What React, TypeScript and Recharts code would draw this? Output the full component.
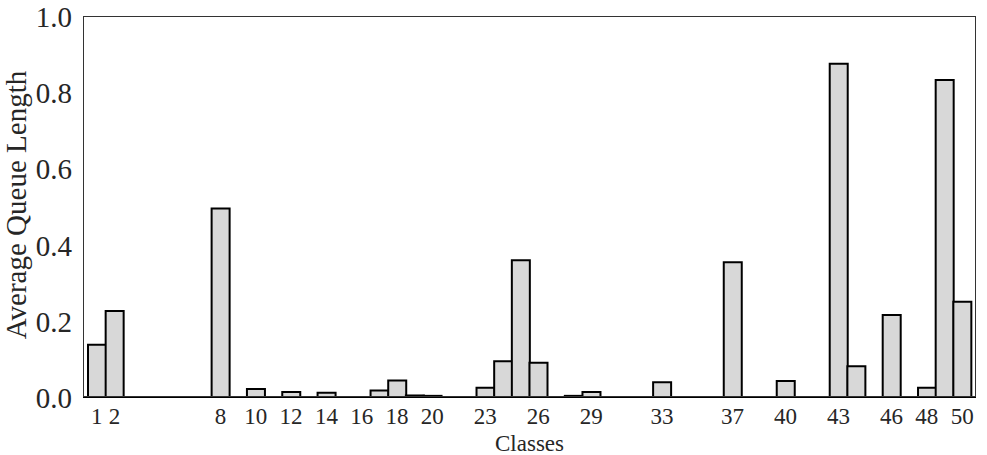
import { BarChart, Bar, XAxis, YAxis, ReferenceLine } from "recharts";

// ─── Data ─────────────────────────────────────────────────────────────────────

const classes = [
  1, 2, 3, 4, 5, 6, 7, 8, 9, 10,
  11, 12, 13, 14, 15, 16, 17, 18, 19, 20,
  21, 22, 23, 24, 25, 26, 27, 28, 29, 30,
  31, 32, 33, 34, 35, 36, 37, 38, 39, 40,
  41, 42, 43, 44, 45, 46, 47, 48, 49, 50,
];

const queueLength = [
  0.137, 0.226, 0, 0, 0, 0, 0, 0.495, 0, 0.021,
  0, 0.013, 0, 0.011, 0, 0, 0.017, 0.043, 0.004, 0.003,
  0, 0, 0.024, 0.094, 0.359, 0.09, 0, 0.003, 0.013, 0,
  0, 0, 0.039, 0, 0, 0, 0.354, 0, 0, 0.042,
  0, 0, 0.875, 0.081, 0, 0.215, 0, 0.024, 0.832, 0.25,
];

const shownClasses = [1, 2, 8, 10, 12, 14, 16, 18, 20, 23, 26, 29, 33, 37, 40, 43, 46, 48, 50];
const yTicks = [0, 0.2, 0.4, 0.6, 0.8, 1.0];

const rows = classes.map((c, i) => ({ cls: c, value: queueLength[i] }));

// ─── Style ────────────────────────────────────────────────────────────────────

const FONT = "Liberation Serif, Times New Roman, serif";
const INK = "#262626";
const FRAME = "#333333";

// plot box (px, inside the 987x455 chart)
const PLOT = { left: 83, right: 976, top: 16, bottom: 397 };

function XTick({ x, y, payload }: any) {
  const v = payload.value;
  if (!shownClasses.includes(v)) return null;
  return (
    <text x={x} y={y + 27} textAnchor="middle" style={{ fontFamily: FONT, fontSize: 23, fill: INK }}>
      {v}
    </text>
  );
}

function YTick({ x, y, payload }: any) {
  return (
    <text x={x} y={y + 11} textAnchor="end" style={{ fontFamily: FONT, fontSize: 29, fill: INK }}>
      {Number(payload.value).toFixed(1)}
    </text>
  );
}

function YLabel() {
  return (
    <text
      x={26}
      y={205}
      transform="rotate(-90, 26, 205)"
      textAnchor="middle"
      style={{ fontFamily: FONT, fontSize: 29, fill: INK }}
    >
      Average Queue Length
    </text>
  );
}

function XLabel() {
  return (
    <text
      x={(PLOT.left + PLOT.right) / 2}
      y={451}
      textAnchor="middle"
      style={{ fontFamily: FONT, fontSize: 23, fill: INK }}
    >
      Classes
    </text>
  );
}

// ─── Component ────────────────────────────────────────────────────────────────

export default function App() {
  return (
    <div style={{ position: "absolute", left: 0, top: 0, width: 987, height: 455, background: "#fff" }}>
      <BarChart
        width={987}
        height={455}
        data={rows}
        margin={{ top: PLOT.top, right: 987 - PLOT.right, left: 0, bottom: 0 }}
        barCategoryGap={0}
        barGap={0}
      >
        <XAxis
          dataKey="cls"
          type="category"
          height={455 - PLOT.bottom}
          padding={{ left: 5, right: 5 }}
          interval={0}
          tickLine={false}
          tickSize={0}
          tickMargin={0}
          axisLine={false}
          tick={<XTick />}
          label={<XLabel />}
        />
        <YAxis
          domain={[0, 1]}
          ticks={yTicks}
          width={PLOT.left}
          tickLine={false}
          tickSize={0}
          tickMargin={11}
          axisLine={false}
          tick={<YTick />}
          label={<YLabel />}
        />
        <Bar
          dataKey="value"
          fill="#d8d8d8"
          stroke="#000"
          strokeWidth={2}
          isAnimationActive={false}
        />
        <ReferenceLine y={0} stroke="#000" strokeWidth={2} />
      </BarChart>

      {/* axes frame */}
      <div
        style={{
          position: "absolute",
          left: PLOT.left - 0.5,
          top: PLOT.top - 0.5,
          width: PLOT.right - PLOT.left,
          height: PLOT.bottom - PLOT.top,
          border: `1.25px solid ${FRAME}`,
          boxSizing: "border-box",
          pointerEvents: "none",
        }}
      />
    </div>
  );
}
